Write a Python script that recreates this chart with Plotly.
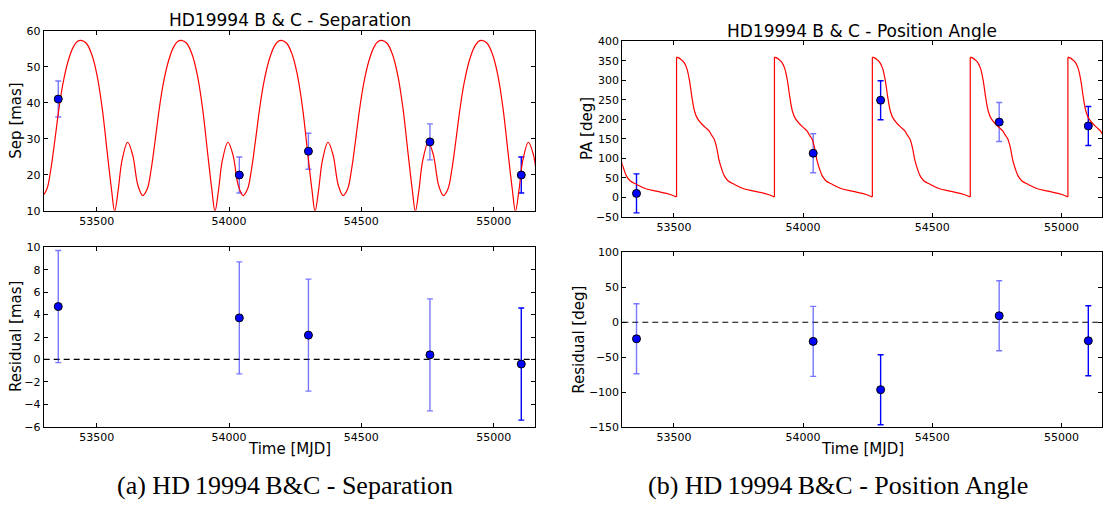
import plotly.graph_objects as go

# ---------------- data ----------------
OBS_MJD = [53355, 54039, 54300, 54759, 55104]

SEP_OBS = [41.0, 19.9, 26.5, 29.1, 19.9]
SEP_ERR = [5.0, 5.0, 5.0, 5.0, 5.0]
SEP_RES = [4.72, 3.71, 2.17, 0.41, -0.41]
SEP_RES_ERR = [5.0, 5.0, 5.0, 5.0, 5.0]

PA_OBS = [10.0, 113.0, 249.0, 193.0, 183.0]
PA_ERR = [50.0, 50.0, 50.0, 50.0, 50.0]
PA_RES = [-23.6, -27.3, -96.3, 9.3, -26.4]
PA_RES_ERR = [50.0, 50.0, 50.0, 50.0, 50.0]

# model separation curve: one cycle (days after a maximum) + the maxima
SEP_PEAK_MJD = [53062, 53441, 53820, 54198, 54577, 54955]
SEP_CYCLE_DT = [0, 20, 40, 60, 80, 100, 115, 127, 140, 155, 176, 195, 215, 233,
                250, 265, 280, 295, 310, 330, 350, 365]
SEP_CYCLE_VAL = [57.3, 56.5, 53.5, 47.8, 38.5, 25.5, 16.0, 9.8, 15.5, 24.0, 29.0, 25.5,
                 17.0, 14.2, 16.0, 21.5, 29.5, 38.0, 45.0, 51.5, 55.5, 57.0]

# model position-angle curve: one cycle (days after the 0->360 wrap) + wrap dates
PA_JUMP_MJD = [53131, 53510, 53889, 54268, 54647, 55025]
PA_CYCLE_DT = [0, 10, 20, 30, 40, 50, 60, 70, 80, 95, 110, 125, 135, 145, 155, 165,
               175, 185, 200, 225, 260, 300, 340, 370, 378]
PA_CYCLE_VAL = [359.5, 357, 352, 345, 330, 300, 255, 220, 203, 190, 180, 171, 160, 150,
                128, 94, 72, 55, 42, 33, 22, 16, 10, 3.5, 0.5]

X_TICKS = [53500, 54000, 54500, 55000]
SEP_TICKS = [10, 20, 30, 40, 50, 60]
SEP_RES_TICKS = [-6, -4, -2, 0, 2, 4, 6, 8, 10]
PA_TICKS = [-50, 0, 50, 100, 150, 200, 250, 300, 350, 400]
PA_RES_TICKS = [-150, -100, -50, 0, 50, 100]

# style: which error bars are drawn fully opaque
SEP_BAR_SOLID = [False, False, False, False, True]
SEP_RES_BAR_SOLID = [False, False, False, False, True]
PA_BAR_SOLID = [True, False, True, False, True]
PA_RES_BAR_SOLID = [False, False, True, False, True]

# ---------------- build model curves ----------------
sep_x, sep_y = [], []
for p in SEP_PEAK_MJD:
    for dt, v in zip(SEP_CYCLE_DT, SEP_CYCLE_VAL):
        sep_x.append(p + dt)
        sep_y.append(v)

pa_x, pa_y = [], []
jump_x, jump_y = [], []
for j in PA_JUMP_MJD:
    for dt, v in zip(PA_CYCLE_DT, PA_CYCLE_VAL):
        pa_x.append(j + dt)
        pa_y.append(v)
    pa_x.append(None)
    pa_y.append(None)
    jump_x += [j, j, None]
    jump_y += [PA_CYCLE_VAL[-1], PA_CYCLE_VAL[0], None]

# ---------------- layout geometry (pixels) ----------------
W, H = 1105, 510


def xd(a, b):
    return [a / W, b / W]


def yd(top, bottom):
    return [1 - bottom / H, 1 - top / H]


LX = (43.7, 535.3)
RX = (622.3, 1102.0)
LT = (25.3, 210.0)
LB = (247.7, 431.7)
RT = (36.3, 216.3)
RB = (252.7, 432.3)
XRANGE = [53300, 55157]

RED = "#ff0000"
BLUE = "#0000ff"
LIGHT = "rgba(30,30,255,0.6)"
FONT = "DejaVu Sans"

fig = go.Figure()


def add_points(xs, ys, errs, solid, xa, ya, curve=None):
    for flag in (False, True):
        sx = [x for x, s in zip(xs, solid) if s == flag]
        sy = [y for y, s in zip(ys, solid) if s == flag]
        se = [e for e, s in zip(errs, solid) if s == flag]
        if not sx:
            continue
        fig.add_trace(go.Scatter(
            x=sx, y=sy, mode="markers", xaxis=xa, yaxis=ya, showlegend=False,
            marker=dict(size=1, color="rgba(0,0,0,0)"),
            error_y=dict(type="data", array=se, visible=True,
                         color=BLUE if flag else LIGHT, thickness=1.4, width=3),
            hoverinfo="skip"))
    if curve is not None:
        for tr in curve:
            fig.add_trace(tr)
    fig.add_trace(go.Scatter(
        x=xs, y=ys, mode="markers", xaxis=xa, yaxis=ya, showlegend=False,
        marker=dict(size=8, color=BLUE, line=dict(color="black", width=1))))


# top-left: separation
add_points(OBS_MJD, SEP_OBS, SEP_ERR, SEP_BAR_SOLID, "x", "y", curve=[
    go.Scatter(x=sep_x, y=sep_y, mode="lines", xaxis="x", yaxis="y", showlegend=False,
               line=dict(color=RED, width=1.2, shape="spline", smoothing=1.0))])
# bottom-left: separation residual
add_points(OBS_MJD, SEP_RES, SEP_RES_ERR, SEP_RES_BAR_SOLID, "x2", "y2")
# top-right: position angle
add_points(OBS_MJD, PA_OBS, PA_ERR, PA_BAR_SOLID, "x3", "y3", curve=[
    go.Scatter(x=pa_x, y=pa_y, mode="lines", xaxis="x3", yaxis="y3", showlegend=False,
               connectgaps=False,
               line=dict(color=RED, width=1.2, shape="spline", smoothing=1.0)),
    go.Scatter(x=jump_x, y=jump_y, mode="lines", xaxis="x3", yaxis="y3", showlegend=False,
               connectgaps=False, line=dict(color=RED, width=1.2))])
# bottom-right: PA residual
add_points(OBS_MJD, PA_RES, PA_RES_ERR, PA_RES_BAR_SOLID, "x4", "y4")

axis_common = dict(showline=True, linecolor="black", linewidth=1, mirror="ticks",
                   ticks="inside", ticklen=4, tickwidth=1, tickcolor="black",
                   showgrid=False, zeroline=False, tickformat="d",
                   tickfont=dict(family=FONT, size=11, color="black"))

fig.update_layout(
    width=W, height=H, margin=dict(l=0, r=0, t=0, b=0),
    paper_bgcolor="white", plot_bgcolor="white", showlegend=False,
    xaxis=dict(domain=xd(*LX), range=XRANGE, tickvals=X_TICKS, anchor="y", **axis_common),
    yaxis=dict(domain=yd(*LT), range=[10, 60], tickvals=SEP_TICKS, anchor="x", **axis_common),
    xaxis2=dict(domain=xd(*LX), range=XRANGE, tickvals=X_TICKS, anchor="y2", **axis_common),
    yaxis2=dict(domain=yd(*LB), range=[-6, 10], tickvals=SEP_RES_TICKS, anchor="x2", **axis_common),
    xaxis3=dict(domain=xd(*RX), range=XRANGE, tickvals=X_TICKS, anchor="y3", **axis_common),
    yaxis3=dict(domain=yd(*RT), range=[-50, 400], tickvals=PA_TICKS, anchor="x3", **axis_common),
    xaxis4=dict(domain=xd(*RX), range=XRANGE, tickvals=X_TICKS, anchor="y4", **axis_common),
    yaxis4=dict(domain=yd(*RB), range=[-150, 100], tickvals=PA_RES_TICKS, anchor="x4", **axis_common),
)

# dashed zero lines in residual panels
for xr, yr in (("x2", "y2"), ("x4", "y4")):
    fig.add_shape(type="line", xref=f"{xr} domain", yref=yr, x0=0, x1=1, y0=0, y1=0,
                  line=dict(color="black", width=1.2, dash="6px,4px"), layer="below")


def ann(text, x, y, size, angle=0, family=FONT):
    fig.add_annotation(text=text, x=x / W, y=1 - y / H, xref="paper", yref="paper",
                       showarrow=False, xanchor="center", yanchor="middle",
                       textangle=angle, font=dict(family=family, size=size, color="black"))


ann("HD19994 B &amp; C - Separation", (LX[0] + LX[1]) / 2, 14, 17)
ann("HD19994 B &amp; C - Position Angle", (RX[0] + RX[1]) / 2, 26, 17)
ann("Sep [mas]", 16, (LT[0] + LT[1]) / 2, 15, -90)
ann("Residual [mas]", 16, (LB[0] + LB[1]) / 2, 15, -90)
ann("PA [deg]", 587, (RT[0] + RT[1]) / 2, 15, -90)
ann("Residual [deg]", 579, (RB[0] + RB[1]) / 2, 15, -90)
ann("Time [MJD]", (LX[0] + LX[1]) / 2, 455, 15)
ann("Time [MJD]", (RX[0] + RX[1]) / 2, 455, 15)
ann("(a) HD\u200919994\u2009B&amp;C - Separation", 285, 492, 26, family="Liberation Serif")
ann("(b) HD\u200919994\u2009B&amp;C - Position Angle", 838, 492, 26, family="Liberation Serif")

fig.write_html("out.html")
